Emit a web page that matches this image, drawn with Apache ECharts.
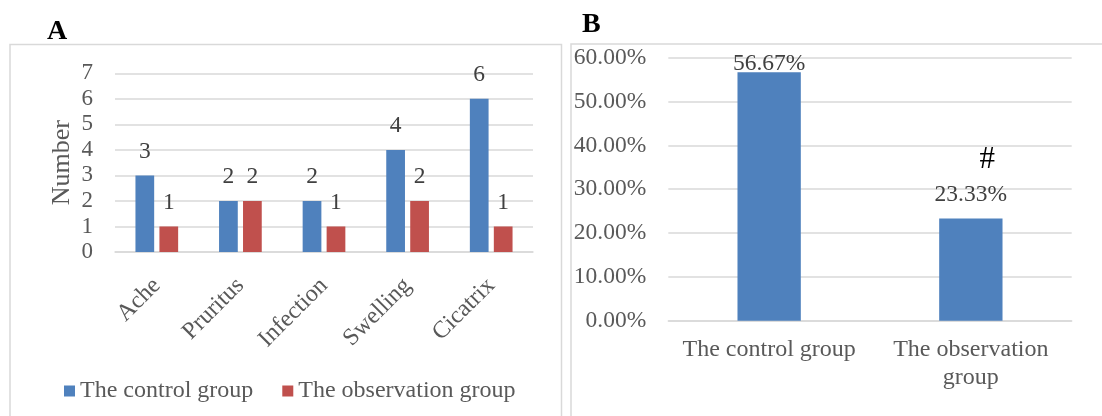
<!DOCTYPE html>
<html>
<head>
<meta charset="utf-8">
<script src="https://cdn.jsdelivr.net/npm/echarts@6/dist/echarts.min.js"></script>
<style>html,body{margin:0;padding:0;background:#fff;}#c{width:1102px;height:416px;}</style>
</head>
<body>
<div id="c"></div>
<script>
const symptoms = ['Ache', 'Pruritus', 'Infection', 'Swelling', 'Cicatrix'];
const controlCounts = [3, 2, 2, 4, 6];
const observationCounts = [1, 2, 1, 2, 1];
const groupsB = ['The control group', 'The observation\ngroup'];
const ratesB = [56.67, 23.33];
const seriesNames = ['The control group', 'The observation group'];

const FONT = 'Liberation Serif';
const BLUE = '#4F81BD', RED = '#C0504D', GRID = '#D9D9D9', TXT = '#595959', LBL = '#404040';

const chart = echarts.init(document.getElementById('c'));
chart.setOption({
  animation: false,
  textStyle: { fontFamily: FONT },
  graphic: [
    { type: 'rect', shape: { x: 10, y: 44.5, width: 551.5, height: 400 }, style: { fill: 'none', stroke: GRID, lineWidth: 1.5 } },
    { type: 'rect', shape: { x: 571, y: 44, width: 560, height: 400 }, style: { fill: 'none', stroke: GRID, lineWidth: 1.5 } },
    { type: 'text', left: 47, top: 18, style: { text: 'A', font: 'bold 28px "Liberation Serif"', fill: '#000' } },
    { type: 'text', left: 582, top: 11, style: { text: 'B', font: 'bold 28px "Liberation Serif"', fill: '#000' } }
  ],
  legend: {
    left: 59, top: 374, itemWidth: 11, itemHeight: 11, itemGap: 29,
    icon: 'rect',
    textStyle: { fontFamily: FONT, fontSize: 24, color: TXT },
    data: seriesNames
  },
  grid: [
    { left: 115, right: 569, top: 73.3, bottom: 164 },
    { left: 668.3, right: 30.3, top: 57.7, bottom: 95.3 }
  ],
  xAxis: [
    { type: 'category', gridIndex: 0, data: symptoms,
      axisLine: { lineStyle: { color: GRID, width: 1.5 } }, axisTick: { show: false },
      axisLabel: { rotate: 45, margin: 30, interval: 0, fontFamily: FONT, fontSize: 24, color: TXT } },
    { type: 'category', gridIndex: 1, data: groupsB,
      axisLine: { lineStyle: { color: GRID, width: 1.5 } }, axisTick: { show: false },
      axisLabel: { margin: 15, interval: 0, fontFamily: FONT, fontSize: 24, color: TXT, lineHeight: 28 } }
  ],
  yAxis: [
    { type: 'value', gridIndex: 0, min: 0, max: 7, interval: 1,
      name: 'Number', nameLocation: 'middle', nameGap: 40,
      nameTextStyle: { fontFamily: FONT, fontSize: 26, color: TXT },
      axisLine: { show: false }, axisTick: { show: false },
      splitLine: { lineStyle: { color: GRID, width: 1.5 } },
      axisLabel: { margin: 22, fontFamily: FONT, fontSize: 23, color: TXT } },
    { type: 'value', gridIndex: 1, min: 0, max: 60, interval: 10,
      axisLine: { show: false }, axisTick: { show: false },
      splitLine: { lineStyle: { color: GRID, width: 1.5 } },
      axisLabel: { margin: 22, fontFamily: FONT, fontSize: 23.5, color: TXT,
        formatter: v => v.toFixed(2) + '%' } }
  ],
  series: [
    { name: seriesNames[0], type: 'bar', xAxisIndex: 0, yAxisIndex: 0, data: controlCounts,
      barWidth: '22.4%', barGap: '28%', itemStyle: { color: BLUE },
      label: { show: true, position: 'top', distance: 12, fontFamily: FONT, fontSize: 23.5, color: LBL } },
    { name: seriesNames[1], type: 'bar', xAxisIndex: 0, yAxisIndex: 0, data: observationCounts,
      barWidth: '22.4%', barGap: '28%', itemStyle: { color: RED },
      label: { show: true, position: 'top', distance: 12, fontFamily: FONT, fontSize: 23.5, color: LBL } },
    { name: 'B', type: 'bar', xAxisIndex: 1, yAxisIndex: 1, barWidth: '31.4%',
      itemStyle: { color: BLUE },
      data: ratesB.map((v, i) => ({
        value: v,
        label: i === 0
          ? { distance: -4, formatter: p => p.value.toFixed(2) + '%' }
          : { distance: 11, formatter: p => '{h|#}\n{v|' + p.value.toFixed(2) + '%}' }
      })),
      label: { show: true, position: 'top', fontFamily: FONT, fontSize: 23.5, color: LBL,
        rich: {
          h: { fontFamily: FONT, fontSize: 31, color: '#000', lineHeight: 44, padding: [0, 0, 0, 33] },
          v: { fontFamily: FONT, fontSize: 23.5, color: LBL, lineHeight: 26 }
        } } }
  ]
});
</script>
</body>
</html>
